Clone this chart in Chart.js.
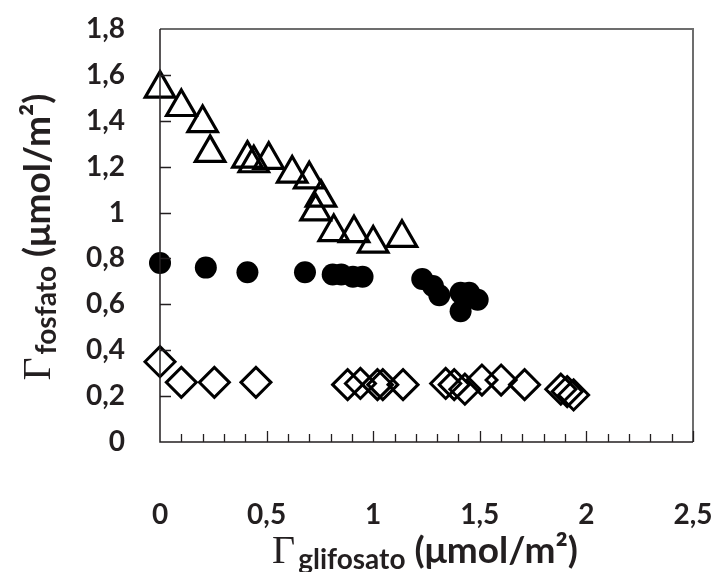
<!DOCTYPE html>
<html>
<head>
<meta charset="utf-8">
<script src="https://cdn.jsdelivr.net/npm/chart.js@4/dist/chart.umd.min.js"></script>
<style>
  html, body { margin: 0; padding: 0; background: #fff; }
  #wrap { width: 717px; height: 572px; position: relative; }
</style>
</head>
<body>
<div id="wrap"><canvas id="chart" width="717" height="572"></canvas></div>
<script>
// triangles (open)
var triX = [0, 0.10, 0.20, 0.235, 0.41, 0.44, 0.51, 0.62, 0.70, 0.755, 0.73, 0.815, 0.91, 1.00, 1.135]
var triY = [1.54, 1.46, 1.39, 1.26, 1.235, 1.215, 1.23, 1.17, 1.145, 1.065, 1.005, 0.915, 0.91, 0.865, 0.89]
// filled circles
var dotX = [0, 0.215, 0.41, 0.68, 0.81, 0.85, 0.905, 0.95, 1.23, 1.28, 1.31, 1.41, 1.45, 1.49, 1.41]
var dotY = [0.78, 0.76, 0.74, 0.74, 0.73, 0.73, 0.72, 0.72, 0.71, 0.68, 0.64, 0.65, 0.65, 0.62, 0.57]
// open diamonds
var diaX = [0, 0.10, 0.255, 0.45, 0.88, 0.94, 1.02, 1.045, 1.14, 1.34, 1.38, 1.43, 1.51, 1.60, 1.71, 1.88, 1.91, 1.94]
var diaY = [0.35, 0.26, 0.26, 0.26, 0.25, 0.255, 0.25, 0.25, 0.25, 0.255, 0.25, 0.23, 0.27, 0.27, 0.25, 0.23, 0.22, 0.205]

var xMin = 0, xMax = 2.5, xStep = 0.5, xMinorStep = 0.1
var yMin = 0, yMax = 1.8, yStep = 0.2

var ink = '#231f20'
var tickFont = { family: 'Lato', weight: 'bold', size: 28 }

function pts(xs, ys) {
    var out = []
    for (var i = 0; i < xs.length; i++) out.push({ x: xs[i], y: ys[i] })
    return out
}

function comma(v) {
    return String(Math.round(v * 10) / 10).replace('.', ',')
}

// draw a line of text made of pieces with different fonts / offsets
function richText(ctx, parts, cx, baseY) {
    var total = 0
    parts.forEach(function (p) {
        ctx.font = p.font
        p.w = ctx.measureText(p.text).width
        total += p.w + (p.gap || 0)
    })
    var x = cx - total / 2
    ctx.textBaseline = 'alphabetic'
    ctx.textAlign = 'left'
    parts.forEach(function (p) {
        ctx.font = p.font
        ctx.fillText(p.text, x, baseY + (p.dy || 0))
        x += p.w + (p.gap || 0)
    })
}

function noPad(s) {
    s.paddingLeft = 0
    s.paddingRight = 0
    s.paddingTop = 0
    s.paddingBottom = 0
}

var framePlugin = {
    id: 'frame',
    afterDatasetsDraw: function (chart) {
        var ctx = chart.ctx
        var a = chart.chartArea
        var xs = chart.scales.x, ys = chart.scales.y
        ctx.save()
        // top and right border (grey)
        ctx.strokeStyle = '#6d6d6d'
        ctx.lineWidth = 2
        ctx.beginPath()
        ctx.moveTo(a.left, a.top)
        ctx.lineTo(a.right, a.top)
        ctx.lineTo(a.right, a.bottom)
        ctx.stroke()
        // axes
        ctx.strokeStyle = ink
        ctx.lineWidth = 1.5
        ctx.beginPath()
        ctx.moveTo(a.left, a.top)
        ctx.lineTo(a.left, a.bottom)
        ctx.lineTo(a.right, a.bottom)
        ctx.stroke()
        // x ticks pointing inward
        ctx.lineWidth = 1.3
        ctx.beginPath()
        var n = Math.round((xMax - xMin) / xMinorStep)
        for (var i = 1; i <= n; i++) {
            var v = xMin + i * xMinorStep
            var px = Math.round(xs.getPixelForValue(v)) + 0.5
            var len = (i % 5 === 0) ? 11 : 8
            ctx.moveTo(px, a.bottom)
            ctx.lineTo(px, a.bottom - len)
        }
        // y ticks pointing inward
        var m = Math.round((yMax - yMin) / yStep)
        for (var j = 1; j < m; j++) {
            var py = Math.round(ys.getPixelForValue(yMin + j * yStep)) + 0.5
            ctx.moveTo(a.left, py)
            ctx.lineTo(a.left + 11, py)
        }
        ctx.stroke()
        ctx.restore()
    },
    afterDraw: function (chart) {
        var ctx = chart.ctx
        ctx.save()
        ctx.fillStyle = ink
        var serif = '40px "Liberation Serif"'
        var sub = 'bold 28px Lato'
        var unit = 'bold 37px Lato'
        // x axis title
        richText(ctx, [
            { text: '\u0393', font: serif, gap: 3 },
            { text: 'glifosato', font: sub, dy: 6, gap: 9 },
            { text: '(\u03bcmol/m\u00b2)', font: unit }
        ], 425, 563)
        // y axis title, rotated
        ctx.translate(38, 237)
        ctx.rotate(-Math.PI / 2)
        richText(ctx, [
            { text: '\u0393', font: serif, gap: 3 },
            { text: 'fosfato', font: sub, dy: 6, gap: 9 },
            { text: '(\u03bcmol/m\u00b2)', font: unit }
        ], 0, 12)
        ctx.restore()
    }
}

var ctx = document.getElementById('chart').getContext('2d')
var scatter = new Chart(ctx, {
    type: 'scatter',
    data: {
        datasets: [{
            label: 'triangles',
            data: pts(triX, triY),
            pointStyle: 'triangle',
            pointRadius: 17,
            borderWidth: 3.2,
            borderColor: '#000',
            backgroundColor: 'rgba(255,255,255,0)',
            clip: false
        }, {
            label: 'circles',
            data: pts(dotX, dotY),
            pointStyle: 'circle',
            pointRadius: 11,
            borderWidth: 0,
            borderColor: '#000',
            backgroundColor: '#000',
            clip: false
        }, {
            label: 'diamonds',
            data: pts(diaX, diaY),
            pointStyle: 'rectRot',
            pointRadius: 15,
            borderWidth: 3,
            borderColor: '#000',
            backgroundColor: 'rgba(255,255,255,0)',
            clip: false
        }]
    },
    options: {
        responsive: false,
        animation: false,
        layout: { padding: { top: 29, right: 24, left: 0, bottom: 0 } },
        plugins: {
            legend: { display: false },
            tooltip: { enabled: false }
        },
        scales: {
            x: {
                type: 'linear',
                min: xMin,
                max: xMax,
                grid: { display: false, drawTicks: false },
                border: { display: false },
                ticks: {
                    stepSize: xStep,
                    color: ink,
                    font: tickFont,
                    padding: 56,
                    maxRotation: 0,
                    callback: function (v) { return comma(v) }
                },
                afterFit: function (s) { s.height = 130; noPad(s) }
            },
            y: {
                min: yMin,
                max: yMax,
                grid: { display: false, drawTicks: false },
                border: { display: false },
                ticks: {
                    stepSize: yStep,
                    color: ink,
                    font: tickFont,
                    padding: 35,
                    callback: function (v) { return comma(v) }
                },
                afterFit: function (s) { s.width = 160; noPad(s) }
            }
        }
    },
    plugins: [framePlugin]
})
</script>
</body>
</html>
